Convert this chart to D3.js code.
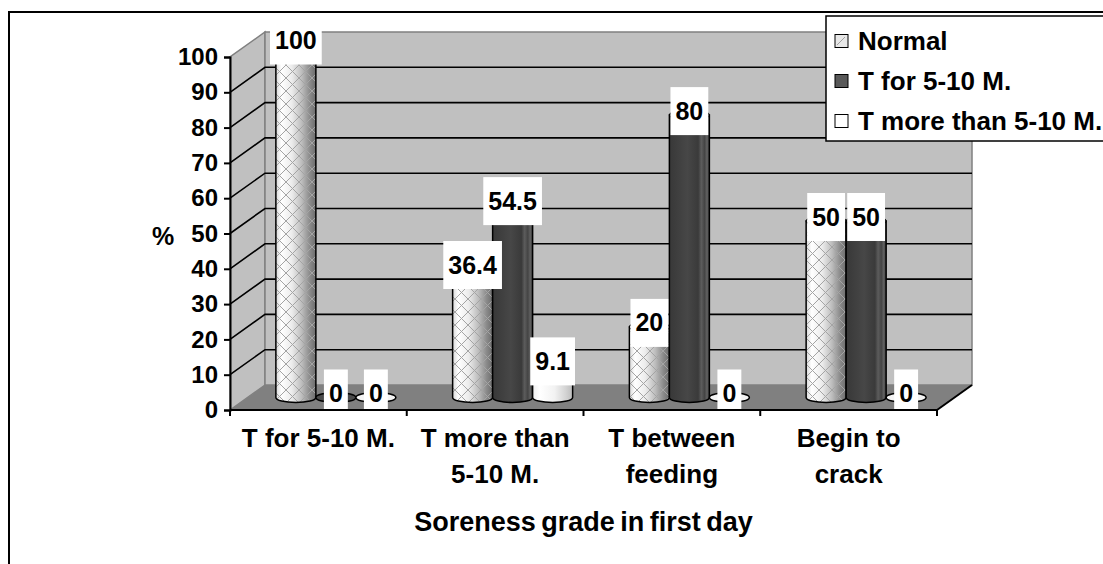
<!DOCTYPE html>
<html>
<head>
<meta charset="utf-8">
<script src="https://cdn.jsdelivr.net/npm/d3@7"></script>
<style>
  html, body { margin: 0; padding: 0; background: #ffffff; }
  svg { display: block; }
  text { font-family: "Liberation Sans", Arial, sans-serif; font-weight: bold; fill: #000; }
</style>
</head>
<body>
<svg id="chart" width="1103" height="564"></svg>
<script>
// Soreness grade in first day: percentage per group
const categoryLines = [
  ["T for 5-10 M."],
  ["T more than", "5-10 M."],
  ["T between", "feeding"],
  ["Begin to", "crack"]
];
const categories = categoryLines.map(l => l.join(" "));
const seriesNames = ["Normal", "T for 5-10 M.", "T more than 5-10 M."];
const normalValues = [100, 36.4, 20, 50];
const tFor510Values = [0, 54.5, 80, 50];
const tMoreThanValues = [0, 9.1, 0, 0];
const yTicks = [0, 10, 20, 30, 40, 50, 60, 70, 80, 90, 100];
const yLabel = "%";
const xTitle = "Soreness grade in first day";

const seriesValues = [normalValues, tFor510Values, tMoreThanValues];

const svg = d3.select("#chart");
const defs = svg.append("defs");

// plot geometry (front face) and 3-D depth offset
const plotLeft = 230, plotRight = 937, plotBottom = 410, plotTop = 57;
const depthX = 35, depthY = -25;

const x0 = d3.scaleBand().domain(categories).range([plotLeft, plotRight]);
const x1 = d3.scaleBand().domain(seriesNames).range([-60, 60]);
const y = d3.scaleLinear().domain([0, 100]).range([plotBottom, plotTop]);

// gradients for the cylinder bodies
function hGradient(id, stops) {
  const g = defs.append("linearGradient").attr("id", id)
    .attr("x1", "0%").attr("x2", "100%").attr("y1", "0%").attr("y2", "0%");
  stops.forEach(([o, c]) => g.append("stop").attr("offset", o).attr("stop-color", c));
}
hGradient("gNormal", [["0%", "#d8d8d8"], ["14%", "#ffffff"], ["40%", "#ececec"], ["65%", "#bcbcbc"], ["85%", "#8a8a8a"], ["100%", "#6c6c6c"]]);
hGradient("gDark", [["0%", "#383838"], ["45%", "#474747"], ["72%", "#3a3a3a"], ["80%", "#5c5c5c"], ["88%", "#444"], ["94%", "#626262"], ["100%", "#3c3c3c"]]);
hGradient("gLight", [["0%", "#eeeeee"], ["18%", "#ffffff"], ["55%", "#f2f2f2"], ["82%", "#d4d4d4"], ["100%", "#bcbcbc"]]);

const hatch = defs.append("pattern").attr("id", "hatch")
  .attr("patternUnits", "userSpaceOnUse").attr("width", 13).attr("height", 13);
hatch.append("path").attr("d", "M0,0L13,13M13,0L0,13M-1,12L1,14M12,-1L14,1")
  .attr("stroke", "#a4a4a4").attr("stroke-width", 1).attr("fill", "none");

const seriesFill = ["url(#gNormal)", "url(#gDark)", "url(#gLight)"];
const capFill = ["#e4e4e4", "#4a4a4a", "#f4f4f4"];
const swatchFill = ["#e8e8e8", "#595959", "#ffffff"];

// outer frame
svg.append("rect").attr("x", 9).attr("y", 12).attr("width", 1200).attr("height", 700)
  .attr("fill", "none").attr("stroke", "#000").attr("stroke-width", 2);

// walls and floor
const wall = svg.append("g");
wall.append("polygon")
  .attr("points", [[plotLeft, y(0)], [plotLeft, y(100)], [plotLeft + depthX, y(100) + depthY], [plotLeft + depthX, y(0) + depthY]].join(" "))
  .attr("fill", "#c0c0c0").attr("stroke", "#808080").attr("stroke-width", 1.5);
wall.append("polygon")
  .attr("points", [[plotLeft + depthX, y(0) + depthY], [plotLeft + depthX, y(100) + depthY], [plotRight + depthX, y(100) + depthY], [plotRight + depthX, y(0) + depthY]].join(" "))
  .attr("fill", "#c0c0c0").attr("stroke", "#808080").attr("stroke-width", 1.5);
wall.append("polygon")
  .attr("points", [[plotLeft, y(0)], [plotLeft + depthX, y(0) + depthY], [plotRight + depthX, y(0) + depthY], [plotRight, y(0)]].join(" "))
  .attr("fill", "#808080");

// gridlines on the side and back walls
const grid = svg.append("g").attr("stroke", "#000").attr("stroke-width", 1.6).attr("fill", "none");
yTicks.filter(t => t > 0 && t < 100).forEach(t => {
  grid.append("polyline")
    .attr("points", [[plotLeft, y(t)], [plotLeft + depthX, y(t) + depthY], [plotRight + depthX, y(t) + depthY]].join(" "));
});

// cylinders, standing halfway into the depth
const midX = depthX / 2, midY = depthY / 2;
const rx = 20, ry = 5;
const bars = svg.append("g");
const labelData = [];
categories.forEach((cat, ci) => {
  seriesNames.forEach((s, si) => {
    const v = seriesValues[si][ci];
    const cx = x0(cat) + x0.bandwidth() / 2 + midX + x1(s) + x1.bandwidth() / 2;
    const yBase = y(0) + midY;
    const yTop = y(v) + midY;
    const xl = cx - rx, xr = cx + rx;
    if (v > 0) {
      const body = `M${xl},${yTop}V${yBase}A${rx},${ry} 0 0 0 ${xr},${yBase}V${yTop}Z`;
      bars.append("path").attr("d", body).attr("fill", seriesFill[si]);
      if (si === 0) bars.append("path").attr("d", body).attr("fill", "url(#hatch)");
      bars.append("path").attr("d", body).attr("fill", "none").attr("stroke", "#000").attr("stroke-width", 1.5);
      bars.append("ellipse").attr("cx", cx).attr("cy", yTop).attr("rx", rx).attr("ry", ry)
        .attr("fill", capFill[si]).attr("stroke", "#000").attr("stroke-width", 1.2);
    } else {
      bars.append("ellipse").attr("cx", cx).attr("cy", yBase).attr("rx", rx).attr("ry", ry)
        .attr("fill", capFill[si]).attr("stroke", "#000").attr("stroke-width", 1.5);
    }
    labelData.push({ cx, cy: yTop - 4, v });
  });
});

// value labels in white boxes
const labelClip = defs.append("clipPath").attr("id", "plotClip");
labelClip.append("rect").attr("x", 0).attr("y", 30).attr("width", 1103).attr("height", 534);
const labels = svg.append("g").attr("clip-path", "url(#plotClip)");
labelData.forEach(d => {
  const g = labels.append("g");
  const t = g.append("text").attr("x", d.cx).attr("y", d.cy + 8.5)
    .attr("text-anchor", "middle").attr("font-size", 25).text(d3.format("~g")(d.v));
  const w = t.node().getComputedTextLength();
  g.insert("rect", "text").attr("x", d.cx - w / 2 - 5).attr("y", d.cy - 24)
    .attr("width", w + 10).attr("height", 48).attr("fill", "#fff");
});

// y axis on the front-left edge
const yAxis = svg.append("g").attr("transform", `translate(${plotLeft},0)`)
  .call(d3.axisLeft(y).tickValues(yTicks).tickSize(6).tickPadding(6));
yAxis.select(".domain").attr("stroke", "#000").attr("stroke-width", 2);
yAxis.selectAll(".tick line").attr("stroke", "#000").attr("stroke-width", 2);
yAxis.selectAll(".tick text").attr("font-size", 24).attr("font-family", null).attr("font-weight", null).attr("fill", "#000");

// x axis along the front of the floor
const xAxis = svg.append("g").attr("transform", `translate(0,${plotBottom})`)
  .call(d3.axisBottom(x0).tickSize(0).tickFormat(""));
xAxis.select(".domain").attr("stroke", "#000").attr("stroke-width", 2).attr("d", `M${plotLeft},0H${plotRight}`);
xAxis.selectAll(".tick").remove();
const boundaries = [plotLeft].concat(categories.map(c => x0(c) + x0.bandwidth()));
svg.append("g").selectAll("line").data(boundaries).join("line")
  .attr("x1", d => d).attr("x2", d => d).attr("y1", plotBottom).attr("y2", plotBottom + 6)
  .attr("stroke", "#000").attr("stroke-width", 2);
svg.append("line").attr("x1", plotRight).attr("y1", y(0)).attr("x2", plotRight + depthX).attr("y2", y(0) + depthY)
  .attr("stroke", "#000").attr("stroke-width", 2);

// category labels
categoryLines.forEach((lines, ci) => {
  const cx = x0(categories[ci]) + x0.bandwidth() / 2;
  lines.forEach((ln, li) => {
    svg.append("text").attr("x", cx).attr("y", 447 + li * 36)
      .attr("text-anchor", "middle").attr("font-size", 26).text(ln);
  });
});

// axis titles
svg.append("text").attr("x", 163).attr("y", 245).attr("text-anchor", "middle")
  .attr("font-size", 25).text(yLabel);
svg.append("text").attr("x", (plotLeft + plotRight) / 2).attr("y", 531).attr("text-anchor", "middle")
  .attr("font-size", 27).attr("word-spacing", -2).text(xTitle);

// legend
const legend = svg.append("g");
legend.append("rect").attr("x", 826).attr("y", 16).attr("width", 400).attr("height", 125)
  .attr("fill", "#fff").attr("stroke", "#000").attr("stroke-width", 1.5);
seriesNames.forEach((s, i) => {
  const cy = 41 + i * 40;
  legend.append("rect").attr("x", 835).attr("y", cy - 6.5).attr("width", 13).attr("height", 13)
    .attr("fill", swatchFill[i]).attr("stroke", "#000").attr("stroke-width", 1);
  if (i === 0) legend.append("line").attr("x1", 837).attr("y1", cy + 4).attr("x2", 845).attr("y2", cy - 4)
    .attr("stroke", "#a0a0a0").attr("stroke-width", 1);
  legend.append("text").attr("x", 858).attr("y", cy + 9).attr("font-size", 26).text(s);
});
</script>
</body>
</html>
